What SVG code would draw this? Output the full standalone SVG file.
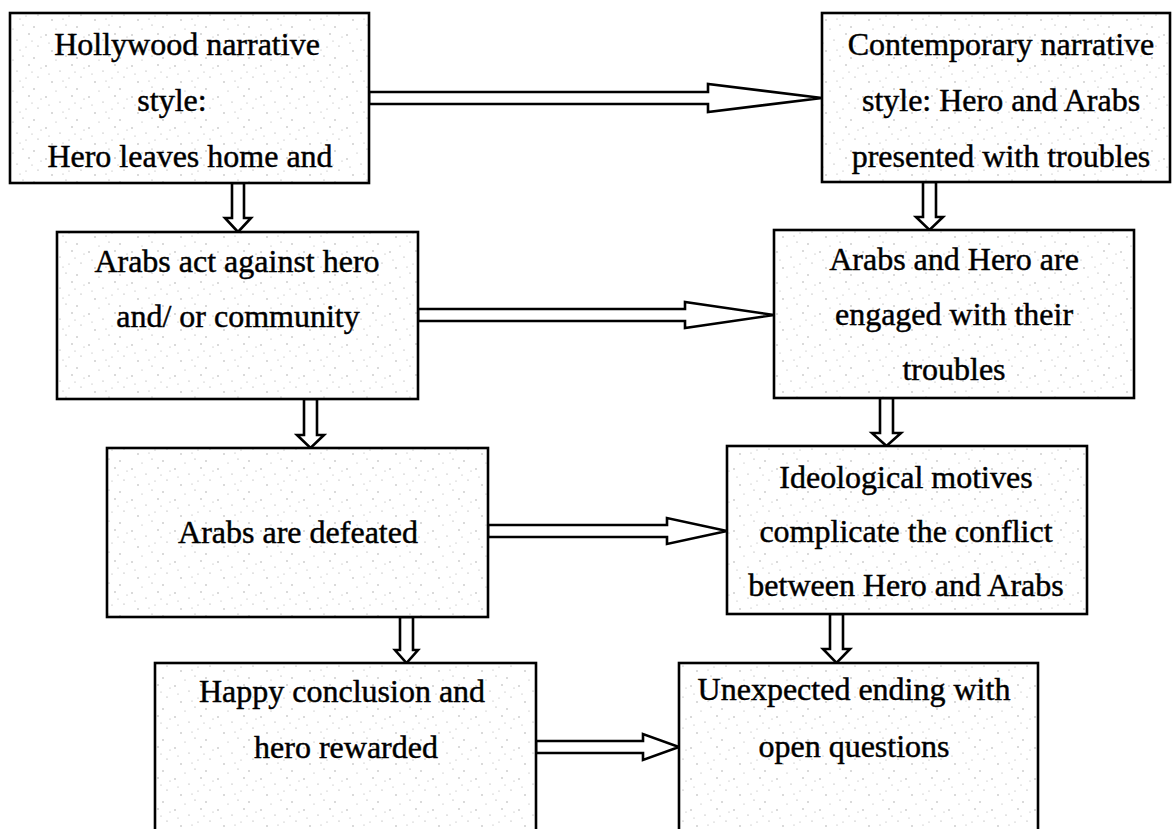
<svg xmlns="http://www.w3.org/2000/svg" width="1173" height="829" viewBox="0 0 1173 829">
<style>
.box{fill:url(#speck);stroke:#000;stroke-width:2.6}
.lbl{font-family:"Liberation Serif","Times New Roman",serif;font-size:32px;fill:#000;stroke:#000;stroke-width:0.45;text-anchor:middle}
.arr{fill:#fff;stroke:#000;stroke-width:2.6;stroke-linejoin:miter}
</style>
<defs>
<pattern id="speck" patternUnits="userSpaceOnUse" width="43" height="31">
<rect width="43" height="31" fill="#fff"/>
<g fill="#999">
<circle cx="3" cy="4" r="0.7"/><circle cx="17" cy="9" r="0.6"/><circle cx="29" cy="3" r="0.7"/>
<circle cx="38" cy="15" r="0.6"/><circle cx="9" cy="20" r="0.7"/><circle cx="23" cy="25" r="0.6"/>
<circle cx="34" cy="27" r="0.7"/><circle cx="13" cy="29" r="0.5"/><circle cx="26" cy="16" r="0.5"/>
<circle cx="6" cy="12" r="0.5"/><circle cx="41" cy="6" r="0.5"/><circle cx="20" cy="19" r="0.5"/>
<circle cx="32" cy="10" r="0.5"/>
</g>
</pattern>
</defs>
<rect width="1173" height="829" fill="#fff"/>

<g id="connectors">
<path class="arr" d="M369,92 H708 V84 L822,98 L708,112 V104 H369 Z"/>
<path class="arr" d="M418,309 H685 V302 L774,315 L685,328 V321 H418 Z"/>
<path class="arr" d="M488,525 H667 V518 L727,531 L667,544 V537 H488 Z"/>
<path class="arr" d="M536,741 H643 V734 L679,747 L643,760 V753 H536 Z"/>
<path class="arr" d="M232,183 V218 H225 L238,232 L251,218 H244 V183 Z"/>
<path class="arr" d="M923,182 V217 H916 L929.5,230 L943,217 H936 V182 Z"/>
<path class="arr" d="M304,399 V435 H297 L310.5,448 L324,435 H317 V399 Z"/>
<path class="arr" d="M880,398 V433 H872 L886.5,446 L901,433 H893 V398 Z"/>
<path class="arr" d="M400,617 V650 H395 L406.5,663 L418,650 H413 V617 Z"/>
<path class="arr" d="M830,614 V649 H823 L836.5,663 L850,649 H843 V614 Z"/>
</g>

<g id="n1">
<rect class="box" x="10" y="13" width="359" height="170"/>
<text class="lbl" x="187" y="55">Hollywood narrative</text>
<text class="lbl" x="172" y="111">style:</text>
<text class="lbl" x="190" y="167">Hero leaves home and</text>
</g>

<g id="n2">
<rect class="box" x="822" y="13" width="348" height="169"/>
<text class="lbl" x="1001" y="55">Contemporary narrative</text>
<text class="lbl" x="1001" y="111">style: Hero and Arabs</text>
<text class="lbl" x="1001" y="167">presented with troubles</text>
</g>

<g id="n3">
<rect class="box" x="57" y="232" width="361" height="167"/>
<text class="lbl" x="237" y="272">Arabs act against hero</text>
<text class="lbl" x="238" y="327">and/ or community</text>
</g>

<g id="n4">
<rect class="box" x="774" y="230" width="360" height="168"/>
<text class="lbl" x="954" y="270">Arabs and Hero are</text>
<text class="lbl" x="954" y="325">engaged with their</text>
<text class="lbl" x="954" y="380">troubles</text>
</g>

<g id="n5">
<rect class="box" x="107" y="448" width="381" height="169"/>
<text class="lbl" x="298" y="543">Arabs are defeated</text>
</g>

<g id="n6">
<rect class="box" x="727" y="446" width="360" height="168"/>
<text class="lbl" x="906" y="488">Ideological motives</text>
<text class="lbl" x="906" y="542">complicate the conflict</text>
<text class="lbl" x="906" y="596">between Hero and Arabs</text>
</g>

<g id="n7">
<rect class="box" x="155" y="663" width="381" height="190"/>
<text class="lbl" x="342" y="702">Happy conclusion and</text>
<text class="lbl" x="346" y="758">hero rewarded</text>
</g>

<g id="n8">
<rect class="box" x="679" y="663" width="359" height="190"/>
<text class="lbl" x="854" y="700">Unexpected ending with</text>
<text class="lbl" x="854" y="757">open questions</text>
</g>
</svg>
